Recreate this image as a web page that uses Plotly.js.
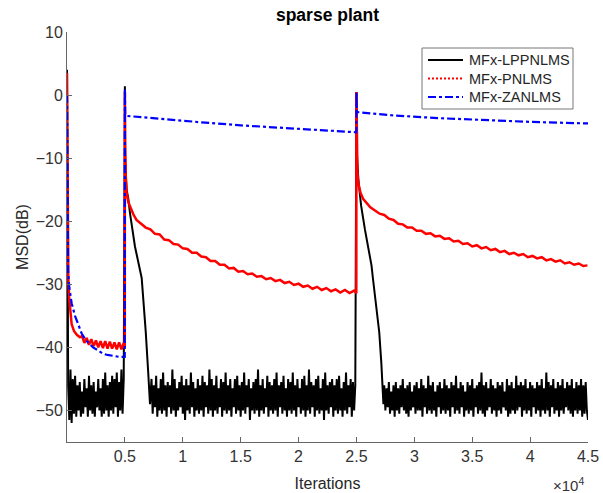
<!DOCTYPE html>
<html>
<head>
<meta charset="utf-8">
<script src="https://cdn.plot.ly/plotly-3.0.1.min.js"></script>
<style>html,body{margin:0;padding:0;background:#fff;}#chart{width:603px;height:493px;}</style>
</head>
<body>
<div id="chart"></div>
<script>
// ---- data ----
const xTickVals = [5000, 10000, 15000, 20000, 25000, 30000, 35000, 40000, 45000];
const xTickText = ['0.5', '1', '1.5', '2', '2.5', '3', '3.5', '4', '4.5'];
const yTickVals = [-50, -40, -30, -20, -10, 0, 10];
const seriesNames = ['MFx-LPPNLMS', 'MFx-PNLMS', 'MFx-ZANLMS'];

// MFx-LPPNLMS (black)
const blackStartX = [0];
const blackStartY = [4];
const blackNoise1Start = 100, blackNoise1Step = 100;
const blackNoise1 = [-46,-51.5,-43.5,-52,-45,-50.5,-44.5,-51,-46,-50,
  -45.5,-51,-47,-50.5,-45,-49.5,-46.5,-51,-44.5,-50,
  -46,-50.5,-45.5,-51,-47,-49.5,-45,-50,-46.5,-51,
  -45,-50.5,-44,-50,-46,-51,-45.5,-50,-44.5,-50.5,
  -45,-49.5,-44,-51,-45.5,-50,-43.5,-50.5,-45];
const blackDrop1X = [5000, 5030, 5150, 5300, 5440, 5870, 6450, 6600, 6800, 7000, 7170];
const blackDrop1Y = [1.4, -10, -15, -16.5, -18.7, -24, -29, -32.5, -37.5, -43.5, -49];
const blackNoise2Start = 7300, blackNoise2Step = 100;
const blackNoise2 = [-45,-50.5,-46,-49.5,-44.5,-51,-46.5,-50,-45,-50.5,
  -44,-50,-46,-51,-45.5,-49.5,-46,-50.5,-43.5,-50,
  -45,-51,-46.5,-50,-45.5,-49.5,-44.5,-50.5,-46,-51.5,
  -45,-50,-46,-50.5,-44,-49.5,-45.5,-51,-46.5,-50,
  -45,-50.5,-46,-50,-44.5,-51,-45.5,-49.5,-46,-50.5,
  -43.5,-50,-45,-51,-46,-50,-44.5,-50.5,-46.5,-49.5,
  -45,-51,-45.5,-50,-44,-50.5,-46,-50,-45,-51,
  -46.5,-49.5,-45,-50.5,-44.5,-50,-46,-51,-45.5,-50,
  -44,-50.5,-46,-49.5,-45,-51.5,-46.5,-50,-45.5,-50.5,
  -45,-50,-43.5,-51,-46,-50,-45,-50.5,-46.5,-49.5,
  -44.5,-51,-45.5,-50,-46,-50.5,-45,-50,-44,-51,
  -46,-49.5,-45.5,-50.5,-44.5,-50,-46.5,-51,-45,-50,
  -45.5,-50.5,-44,-50,-46,-51,-45,-49.5,-46.5,-50.5,
  -45,-50,-44.5,-51,-46,-50,-43.5,-50.5,-45.5,-49.5,
  -46,-51,-45,-50,-44.5,-50.5,-46.5,-50,-45,-51.5,
  -44,-50,-46,-50.5,-45.5,-49.5,-45,-51,-46,-50,
  -45,-50.5,-44.5,-50,-46.5,-51,-45.5,-50,-44,-50.5,
  -46,-49.5,-45,-51,-45.5,-50,-46];
const blackDrop2X = [25000, 25030, 25170, 25400, 25730, 26000, 26300, 26420, 26700, 26970, 27150, 27260, 27330];
const blackDrop2Y = [0.5, -9, -13.5, -17.5, -21.3, -24, -27, -29, -33, -37.6, -42.5, -46.6, -49];
const blackNoise3Start = 27400, blackNoise3Step = 100;
const blackNoise3 = [-46,-50,-46.5,-49.5,-45.5,-50.5,-47,-50,-46,-51,
  -45.5,-50,-46.5,-50.5,-46,-49.5,-45,-50,-46.5,-50.5,
  -46,-51,-45.5,-50,-47,-49.5,-46,-50.5,-45.5,-50,
  -46.5,-50,-45,-51,-46,-49.5,-46.5,-50.5,-44.5,-50,
  -46,-50.5,-45.5,-50,-47,-51,-46,-49.5,-45.5,-50.5,
  -46.5,-50,-45,-50.5,-46,-50,-46.5,-51,-45.5,-49.5,
  -46,-50.5,-44.5,-50,-46.5,-50.5,-45.5,-49.5,-46,-51,
  -47,-50,-45.5,-50.5,-46,-50,-45,-51,-46.5,-49.5,
  -46,-50.5,-45.5,-50,-44,-50.5,-46,-51,-45.5,-50,
  -46.5,-49.5,-45,-50.5,-46,-50,-46.5,-51,-45.5,-50,
  -46,-50.5,-45.5,-49.5,-47,-50,-45,-51,-46,-50.5,
  -45.5,-50,-46.5,-50.5,-44.5,-50,-46,-49.5,-45.5,-51,
  -46,-50,-45,-50.5,-46.5,-50,-45.5,-51,-46,-49.5,
  -46.5,-50.5,-45.5,-50,-46,-51,-45,-50,-46.5,-50.5,
  -44,-50,-45.5,-51,-46,-49.5,-45,-50.5,-46.5,-50,
  -45.5,-51,-46,-50,-45,-50.5,-46.5,-49.5,-45.5,-50,
  -46,-50.5,-45,-51,-46.5,-50,-45.5,-50.5,-46,-50,
  -45,-51,-46,-50.5,-45.5,-50,-51.5];

// MFx-PNLMS (red)
const redX = [0, 20, 60, 110, 180, 260, 400, 600, 850, 1120,
  1300, 1500, 1700, 1900, 2100, 2300, 2500, 2700, 2900, 3100,
  3300, 3500, 3700, 3900, 4100, 4300, 4500, 4700, 4900, 4990,
  5000, 5020, 5080, 5150, 5300, 5500, 5730, 6000, 6400, 6800,
  7200, 7600, 8000, 8400, 8800, 9200, 9600, 10000, 10400, 10800,
  11200, 11600, 12000, 12400, 12800, 13200, 13600, 14000, 14400, 14800,
  15200, 15600, 16000, 16400, 16800, 17200, 17600, 18000, 18400, 18800,
  19200, 19600, 20000, 20400, 20800, 21200, 21600, 22000, 22400, 22800,
  23200, 23600, 24000, 24400, 24800, 24990,
  25000, 25020, 25080, 25160, 25350, 25590, 25900, 26200, 26600, 27000,
  27400, 27800, 28200, 28600, 29000, 29400, 29800, 30200, 30600, 31000,
  31400, 31800, 32200, 32600, 33000, 33400, 33800, 34200, 34600, 35000,
  35400, 35800, 36200, 36600, 37000, 37400, 37800, 38200, 38600, 39000,
  39400, 39800, 40200, 40600, 41000, 41400, 41800, 42200, 42600, 43000,
  43400, 43800, 44200, 44600, 44950];
const redY = [3.5, -10, -22, -28.7, -32, -34, -36.3, -37.4, -38, -38.4,
  -38.2, -39.3, -38.5, -39.6, -38.7, -39.8, -38.9, -40, -39, -40.1,
  -39, -40.2, -39.1, -40.2, -39.2, -40.3, -39.2, -40.3, -39.3, -40,
  0.5, -8, -13.5, -15.5, -17, -18, -18.9, -19.8, -20.4, -21,
  -21.3, -22, -22.1, -22.9, -23, -23.6, -23.7, -24.3, -24.4, -25,
  -25, -25.6, -25.7, -26.3, -26.3, -26.9, -26.9, -27.5, -27.4, -28,
  -27.9, -28.4, -28.3, -28.8, -28.7, -29.2, -29, -29.5, -29.3, -29.8,
  -29.6, -30.1, -29.9, -30.4, -30.2, -30.7, -30.4, -30.9, -30.6, -31.1,
  -30.8, -31.3, -30.9, -31.4, -31, -31.4,
  0.5, -8, -12, -14, -15.5, -16.5, -17.2, -17.8, -18.3, -18.8,
  -19, -19.6, -19.8, -20.4, -20.5, -21, -21, -21.5, -21.5, -22,
  -21.9, -22.4, -22.3, -22.8, -22.7, -23.2, -23.1, -23.6, -23.5, -24,
  -23.8, -24.3, -24.1, -24.6, -24.4, -24.9, -24.7, -25.2, -25, -25.4,
  -25.2, -25.7, -25.5, -25.9, -25.7, -26.2, -26, -26.4, -26.2, -26.7,
  -26.5, -26.9, -26.7, -27.1, -27];

// MFx-ZANLMS (blue)
const blueX = [0, 40, 100, 200, 400, 690, 1000, 1270, 1600, 2000,
  2250, 2700, 3110, 3500, 4000, 4500, 4990,
  5000, 5030, 5100, 8000, 11500, 15000, 20000, 24990,
  25000, 25030, 25100, 28000, 32000, 36000, 40000, 45000];
const blueY = [0, -20, -28, -30.5, -33, -35, -36.5, -37.8, -38.8, -39.5,
  -40, -40.5, -41, -41.2, -41.4, -41.5, -41.5,
  1, -3, -3.3, -3.8, -4.3, -4.8, -5.4, -5.9,
  0.5, -2.5, -2.7, -3.2, -3.65, -3.95, -4.25, -4.5];

// ---- assemble black series ----
function gridX(start, step, n) { const a = []; for (let i = 0; i < n; i++) a.push(start + i * step); return a; }
const blackX = [].concat(blackStartX, gridX(blackNoise1Start, blackNoise1Step, blackNoise1.length),
  blackDrop1X, gridX(blackNoise2Start, blackNoise2Step, blackNoise2.length),
  blackDrop2X, gridX(blackNoise3Start, blackNoise3Step, blackNoise3.length));
const blackY = [].concat(blackStartY, blackNoise1, blackDrop1Y, blackNoise2, blackDrop2Y, blackNoise3);

const FONT = 'Liberation Sans, Arial, Helvetica, sans-serif';
const lineStyles = [
  {color: '#000000', width: 2},
  {color: '#ff0000', width: 2.5},
  {color: '#0000ff', width: 2.2, dash: '8px,3px,3px,3px'}
];
const legendStyles = [
  {color: '#000000', width: 2},
  {color: '#ff0000', width: 2, dash: '2px,2px'},
  {color: '#0000ff', width: 2, dash: '8px,3px,3px,3px'}
];

const traces = [
  {x: blackX, y: blackY, type: 'scatter', mode: 'lines', name: seriesNames[0], line: lineStyles[0], hoverinfo: 'skip'},
  {x: redX, y: redY, type: 'scatter', mode: 'lines', name: seriesNames[1], line: lineStyles[1], hoverinfo: 'skip'},
  {x: blueX, y: blueY, type: 'scatter', mode: 'lines', name: seriesNames[2], line: lineStyles[2], hoverinfo: 'skip'}
];

// legend box drawn in paper coordinates (pixel layout converted to paper fractions)
const PL = 67, PW = 521, PB = 442, PH = 410;
const px = v => (v - PL) / PW;
const py = v => (PB - v) / PH;
const legendRows = [60, 78.5, 97];
const shapes = [
  {type: 'rect', xref: 'paper', yref: 'paper', x0: px(422), x1: px(573), y0: py(48), y1: py(109),
   line: {color: '#777', width: 1}, fillcolor: '#ffffff', layer: 'above'}
];
const annotations = [];
seriesNames.forEach((name, i) => {
  shapes.push({type: 'line', xref: 'paper', yref: 'paper', x0: px(428), x1: px(463),
               y0: py(legendRows[i]), y1: py(legendRows[i]), line: legendStyles[i], layer: 'above'});
  annotations.push({text: name, xref: 'paper', yref: 'paper', x: px(467), y: py(legendRows[i]),
                    xanchor: 'left', yanchor: 'middle', showarrow: false,
                    font: {family: FONT, size: 14.5, color: '#262626'}});
});
annotations.push({text: '×10<sup>4</sup>', xref: 'paper', yref: 'paper', x: px(568), y: py(484),
  xanchor: 'center', yanchor: 'middle', showarrow: false, font: {family: FONT, size: 15, color: '#333'}});

const layout = {
  width: 603, height: 493,
  margin: {l: 67, r: 15, t: 32, b: 51, pad: 0},
  paper_bgcolor: '#ffffff', plot_bgcolor: '#ffffff',
  font: {family: FONT, size: 15, color: '#262626'},
  showlegend: false,
  title: {text: '<b>sparse plant</b>', font: {family: FONT, size: 17.5, color: '#000'},
          xref: 'paper', x: 0.5, xanchor: 'center', yref: 'container', y: 1 - 15 / 493, yanchor: 'middle'},
  xaxis: {range: [0, 45000], tickvals: xTickVals, ticktext: xTickText,
          ticks: 'inside', ticklen: 5, tickcolor: '#666', tickwidth: 1,
          showline: true, linecolor: '#666', linewidth: 1, mirror: false,
          showgrid: false, zeroline: false, fixedrange: true,
          tickfont: {family: FONT, size: 16, color: '#333'},
          title: {text: 'Iterations', font: {family: FONT, size: 16, color: '#262626'}, standoff: 13}},
  yaxis: {range: [-55, 10], tickvals: yTickVals,
          ticks: 'inside', ticklen: 5, tickcolor: '#666', tickwidth: 1,
          showline: true, linecolor: '#666', linewidth: 1, mirror: false,
          showgrid: false, zeroline: false, fixedrange: true,
          tickfont: {family: FONT, size: 16, color: '#333'},
          title: {text: 'MSD(dB)', font: {family: FONT, size: 16, color: '#262626'}, standoff: 3}},
  shapes: shapes,
  annotations: annotations
};

Plotly.newPlot('chart', traces, layout, {displayModeBar: false, staticPlot: true});
</script>
</body>
</html>
